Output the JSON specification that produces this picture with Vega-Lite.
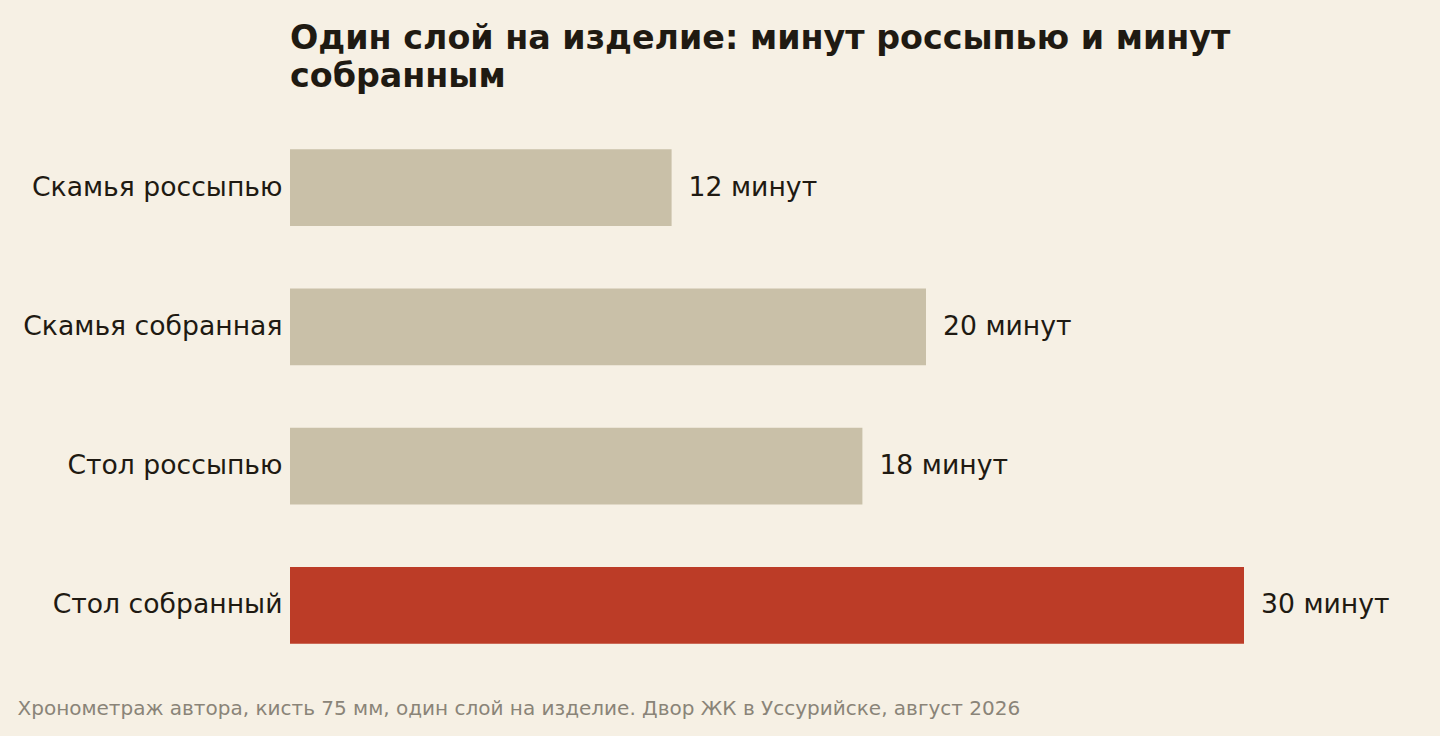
{
  "$schema": "https://vega.github.io/schema/vega-lite/v6.json",
  "autosize": {"type": "none"},
  "padding": {"left": 290, "top": 118, "right": 196, "bottom": 61},
  "width": 954,
  "height": 557,
  "background": "#f6f0e4",
  "config": {
    "view": {"stroke": null},
    "font": "DejaVu Sans"
  },
  "title": {
    "text": ["Один слой на изделие: минут россыпью и минут", "собранным"],
    "anchor": "start",
    "frame": "group",
    "font": "DejaVu Sans",
    "fontSize": 33.33,
    "fontWeight": "bold",
    "color": "#1f1a12",
    "lineHeight": 38,
    "offset": 24
  },
  "data": {
    "values": [
      {"item": "Скамья россыпью", "minutes": 12, "label": "12 минут", "highlight": "no"},
      {"item": "Скамья собранная", "minutes": 20, "label": "20 минут", "highlight": "no"},
      {"item": "Стол россыпью", "minutes": 18, "label": "18 минут", "highlight": "no"},
      {"item": "Стол собранный", "minutes": 30, "label": "30 минут", "highlight": "yes"}
    ]
  },
  "encoding": {
    "y": {
      "field": "item",
      "type": "nominal",
      "sort": null,
      "scale": {"paddingInner": 0.45, "paddingOuter": 0.225},
      "axis": {
        "title": null,
        "ticks": false,
        "domain": false,
        "labelFontSize": 26.67,
        "labelColor": "#1f1a12",
        "labelPadding": 8,
        "labelLimit": 400,
        "labelFont": "DejaVu Sans"
      }
    },
    "x": {
      "field": "minutes",
      "type": "quantitative",
      "scale": {"domain": [0, 30], "nice": false},
      "axis": {
        "labels": false,
        "ticks": false,
        "domain": false,
        "grid": false,
        "title": "Хронометраж автора, кисть 75 мм, один слой на изделие. Двор ЖК в Уссурийске, август 2026",
        "titleFont": "DejaVu Sans",
        "titleFontSize": 20,
        "titleFontWeight": "normal",
        "titleColor": "#8a8478",
        "titleAlign": "left",
        "titleAnchor": "start",
        "titleBaseline": "alphabetic",
        "titleX": -273,
        "titleY": 39
      }
    }
  },
  "layer": [
    {
      "mark": {"type": "bar"},
      "encoding": {
        "color": {
          "field": "highlight",
          "type": "nominal",
          "scale": {"domain": ["no", "yes"], "range": ["#c9c0a8", "#bc3c27"]},
          "legend": null
        }
      }
    },
    {
      "mark": {"type": "text", "align": "left", "baseline": "middle", "dx": 17, "fontSize": 26.67, "color": "#1f1a12", "font": "DejaVu Sans"},
      "encoding": {
        "text": {"field": "label"}
      }
    }
  ]
}
